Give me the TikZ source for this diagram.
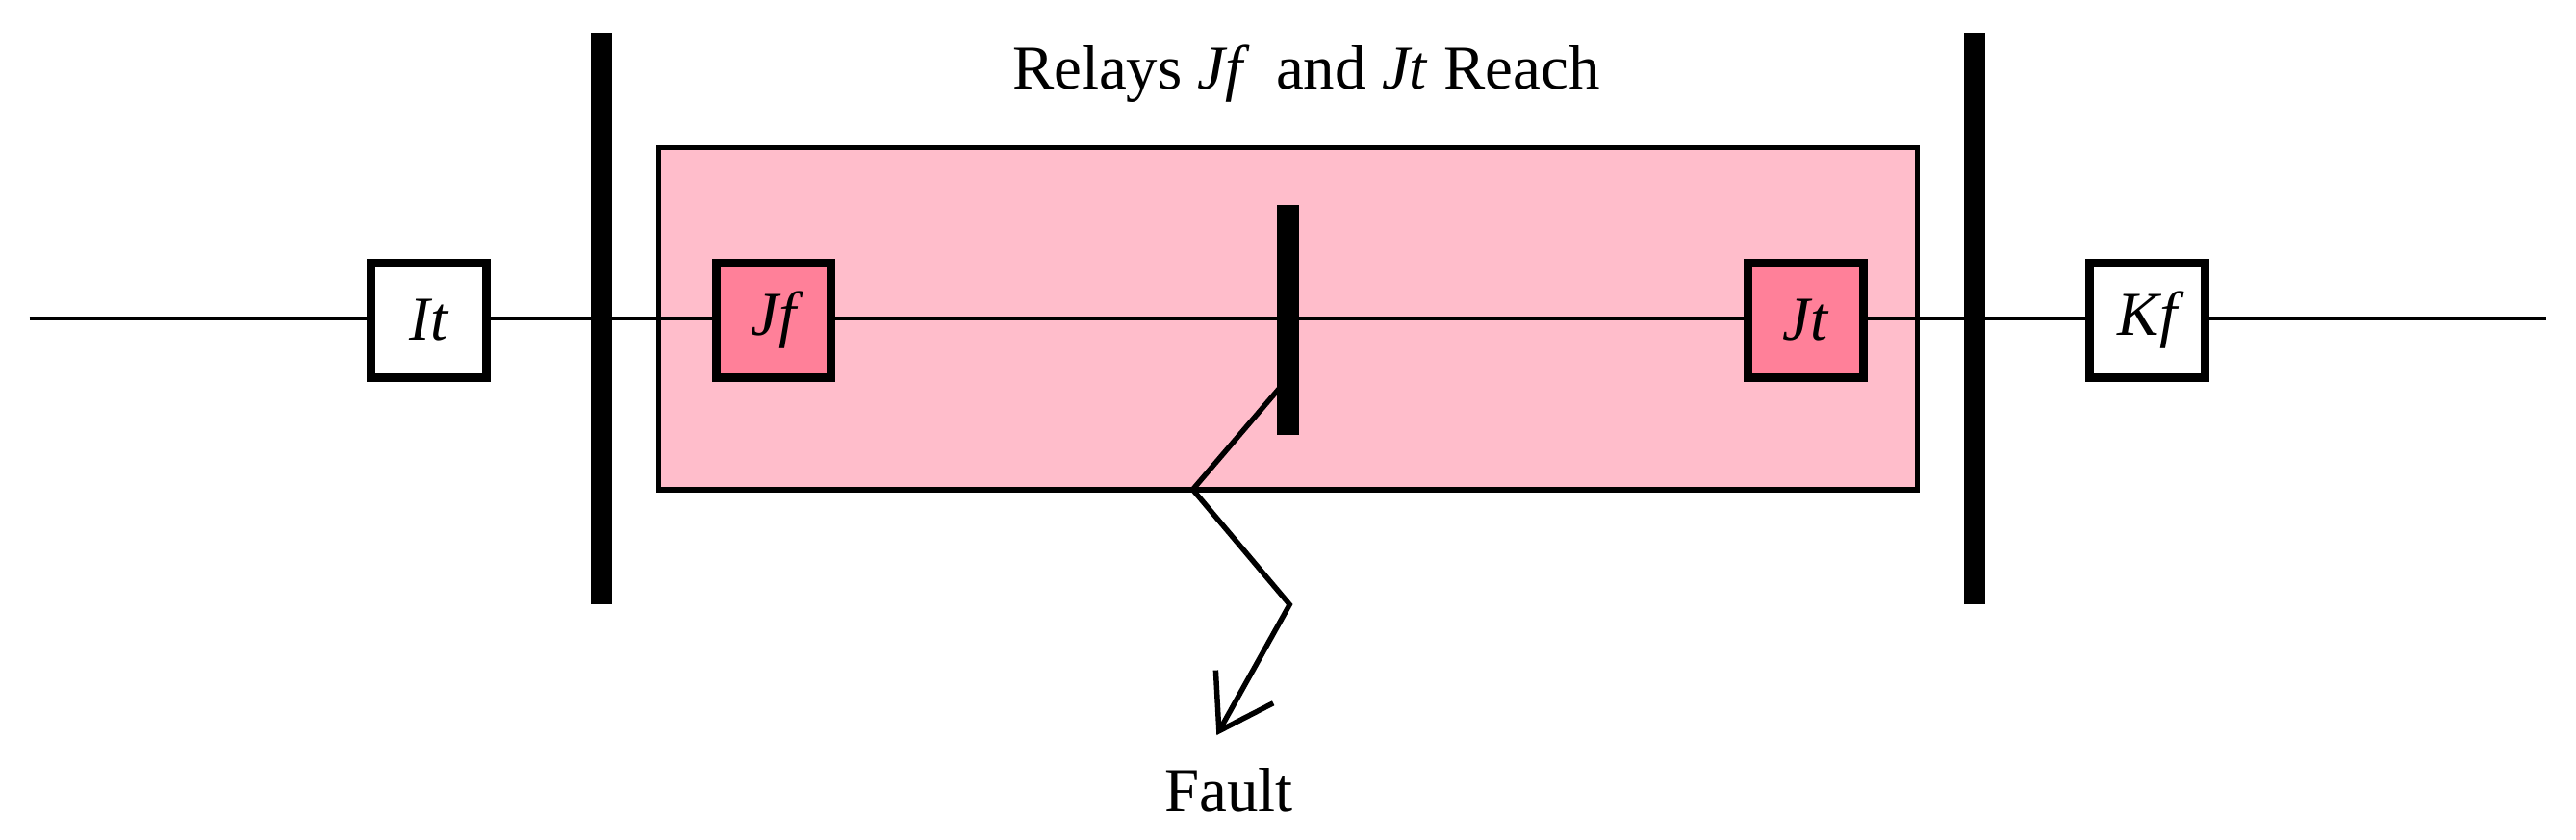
\documentclass[tikz,border=0pt]{standalone}
\usepackage{fontspec}
\setmainfont{Liberation Serif}
\definecolor{zone}{HTML}{FFBDCB}
\definecolor{relayfill}{HTML}{FF8099}
\begin{document}
\begin{tikzpicture}[x=0.5pt,y=-0.5pt,
  relay/.style={draw=black,line width=2.6pt,minimum width=35pt,minimum height=35pt,inner sep=0pt,font=\fontsize{19}{22}\selectfont\itshape},
  bus/.style={line width=6.5pt},
  lbl/.style={font=\fontsize{19}{22}\selectfont}]
\useasboundingbox (0,0) rectangle (1568,511);
\coordinate (L) at (18,194);
\coordinate (R) at (1550,194);
\draw[line width=1.1pt] (L) -- (R);
\node[draw=black,line width=1.6pt,fill=zone,minimum width=383pt,minimum height=104pt,inner sep=0pt] (zone) at (784,194) {};
\draw[line width=1.1pt] (zone.west) -- (zone.east);
\node[relay,fill=white] (It) at (261,195) {It};
\node[relay,fill=relayfill] (Jf) at (471,195) {Jf};
\node[relay,fill=relayfill] (Jt) at (1099,195) {Jt};
\node[relay,fill=white] (Kf) at (1307,195) {Kf};
\coordinate (b1t) at (366,20); \coordinate (b1b) at (366,368);
\coordinate (b2t) at (1202,20); \coordinate (b2b) at (1202,368);
\coordinate (mt) at (784,125); \coordinate (mb) at (784,265);
\draw[bus] (b1t) -- (b1b);
\draw[bus] (b2t) -- (b2b);
\draw[bus] (mt) -- (mb);
\node[lbl] (title) at (795,45) {Relays \textit{Jf}\, and \textit{Jt} Reach};
\coordinate (f1) at (779,236); \coordinate (f2) at (726,298);
\coordinate (f3) at (785,368); \coordinate (f4) at (742,445);
\coordinate (h1) at (740,408); \coordinate (h2) at (775,428);
\draw[line width=1.6pt,line join=miter] (f1) -- (f2) -- (f3) -- (f4);
\draw[line width=1.6pt] (h1) -- (f4) -- (h2);
\node[lbl] (fault) at (748,481) {Fault};
\end{tikzpicture}
\end{document}
